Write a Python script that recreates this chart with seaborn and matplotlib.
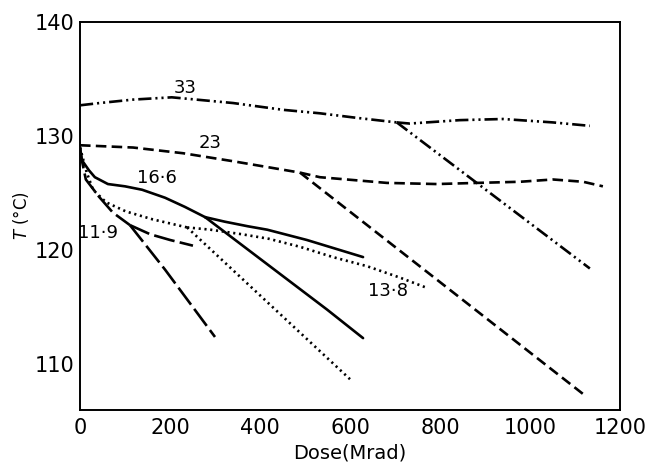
import matplotlib
matplotlib.use("Agg")
import matplotlib.pyplot as plt
import seaborn as sns
import pandas as pd

# ---- data (dose in Mrad, T in deg C) ----
d33_main = [0, 44, 118, 204, 340, 452, 533, 615, 704]
t33_main = [132.7, 132.9, 133.2, 133.4, 132.9, 132.3, 132.0, 131.6, 131.2]
d33_flat = [704, 733, 844, 940, 1051, 1133]
t33_flat = [131.2, 131.1, 131.4, 131.5, 131.2, 130.9]
d33_drop = [704, 1133]
t33_drop = [131.2, 118.4]

d23_main = [0, 118, 229, 340, 489]
t23_main = [129.2, 129.0, 128.5, 127.8, 126.8]
d23_flat = [489, 533, 682, 793, 882, 978, 1051, 1118, 1162]
t23_flat = [126.8, 126.4, 125.9, 125.8, 125.9, 126.0, 126.2, 126.0, 125.6]
d23_drop = [489, 1118]
t23_drop = [126.8, 107.4]

d166_main = [0, 4, 20, 33, 62, 100, 138, 189, 233, 278]
t166_main = [129.0, 127.9, 127.0, 126.4, 125.8, 125.6, 125.3, 124.6, 123.8, 122.9]
d166_flat = [278, 322, 373, 416, 504, 629]
t166_flat = [122.9, 122.5, 122.1, 121.8, 120.9, 119.4]
d166_drop = [278, 549, 629]
t166_drop = [122.9, 114.8, 112.3]

d138_main = [0, 15, 29, 58, 102, 162, 238]
t138_main = [129.0, 126.8, 125.3, 124.2, 123.4, 122.7, 122.0]
d138_flat = [238, 290, 360, 420, 489, 562, 638, 711, 771]
t138_flat = [122.0, 121.8, 121.4, 121.0, 120.3, 119.4, 118.6, 117.6, 116.7]
d138_drop = [238, 600]
t138_drop = [122.0, 108.7]

d119_main = [0, 4, 13, 42, 73, 111]
t119_main = [129.0, 127.9, 126.2, 124.7, 123.3, 122.2]
d119_flat = [111, 156, 200, 251]
t119_flat = [122.2, 121.4, 120.9, 120.4]
d119_drop = [111, 189, 300]
t119_drop = [122.2, 118.3, 112.4]

labels = ["33", "23", "16·6", "13·8", "11·9"]
label_dose = [233, 289, 171, 684, 40]
label_temp = [134.2, 129.4, 126.3, 116.4, 121.5]

xticks = [0, 200, 400, 600, 800, 1000, 1200]
yticks = [110, 120, 130, 140]

# ---- styling ----
sns.set_theme(style="white")
plt.rcParams['font.family'] = ['DejaVu Sans']

fig = plt.figure(figsize=(6.5, 4.62), dpi=100)
ax = fig.add_axes([80/650, 1-410/462, 540/650, 388/462])

styles = {
    "33": (0, (5, 1.5, 0.8, 1.5, 0.8, 1.5)),
    "23": (0, (4, 2)),
    "16·6": "-",
    "13·8": (0, (0.8, 1.4)),
    "11·9": (0, (8, 2)),
}

segments = [
    ("33", d33_main, t33_main), ("33", d33_flat, t33_flat), ("33", d33_drop, t33_drop),
    ("23", d23_main, t23_main), ("23", d23_flat, t23_flat), ("23", d23_drop, t23_drop),
    ("16·6", d166_main, t166_main), ("16·6", d166_flat, t166_flat), ("16·6", d166_drop, t166_drop),
    ("13·8", d138_main, t138_main), ("13·8", d138_flat, t138_flat), ("13·8", d138_drop, t138_drop),
    ("11·9", d119_main, t119_main), ("11·9", d119_flat, t119_flat), ("11·9", d119_drop, t119_drop),
]

for name, xs, ys in segments:
    df = pd.DataFrame({"dose": xs, "T": ys})
    sns.lineplot(data=df, x="dose", y="T", ax=ax, color="black", sort=False,
                 estimator=None, linewidth=1.9, linestyle=styles[name])

for lab, x, y in zip(labels, label_dose, label_temp):
    ax.text(x, y, lab, fontsize=13, ha="center", va="center", color="black")

ax.set_xlim(0, 1200)
ax.set_ylim(106, 140)
ax.set_xticks(xticks)
ax.set_yticks(yticks)
ax.set_xticklabels([str(v) for v in xticks])
ax.set_yticklabels([str(v) for v in yticks])
ax.tick_params(axis="x", direction="in", length=6, width=1.3, pad=6, labelsize=15, colors="black")
ax.tick_params(axis="y", direction="in", length=6, width=1.3, pad=4, labelsize=15, colors="black")
for s in ax.spines.values():
    s.set_visible(True)
    s.set_color("black")
    s.set_linewidth(1.4)

ax.set_xlabel("Dose(Mrad)", fontsize=14, labelpad=4, color="black")
ax.set_ylabel("$T$ (°C)", fontsize=12, labelpad=3, color="black")

fig.savefig("out.png", dpi=100)
